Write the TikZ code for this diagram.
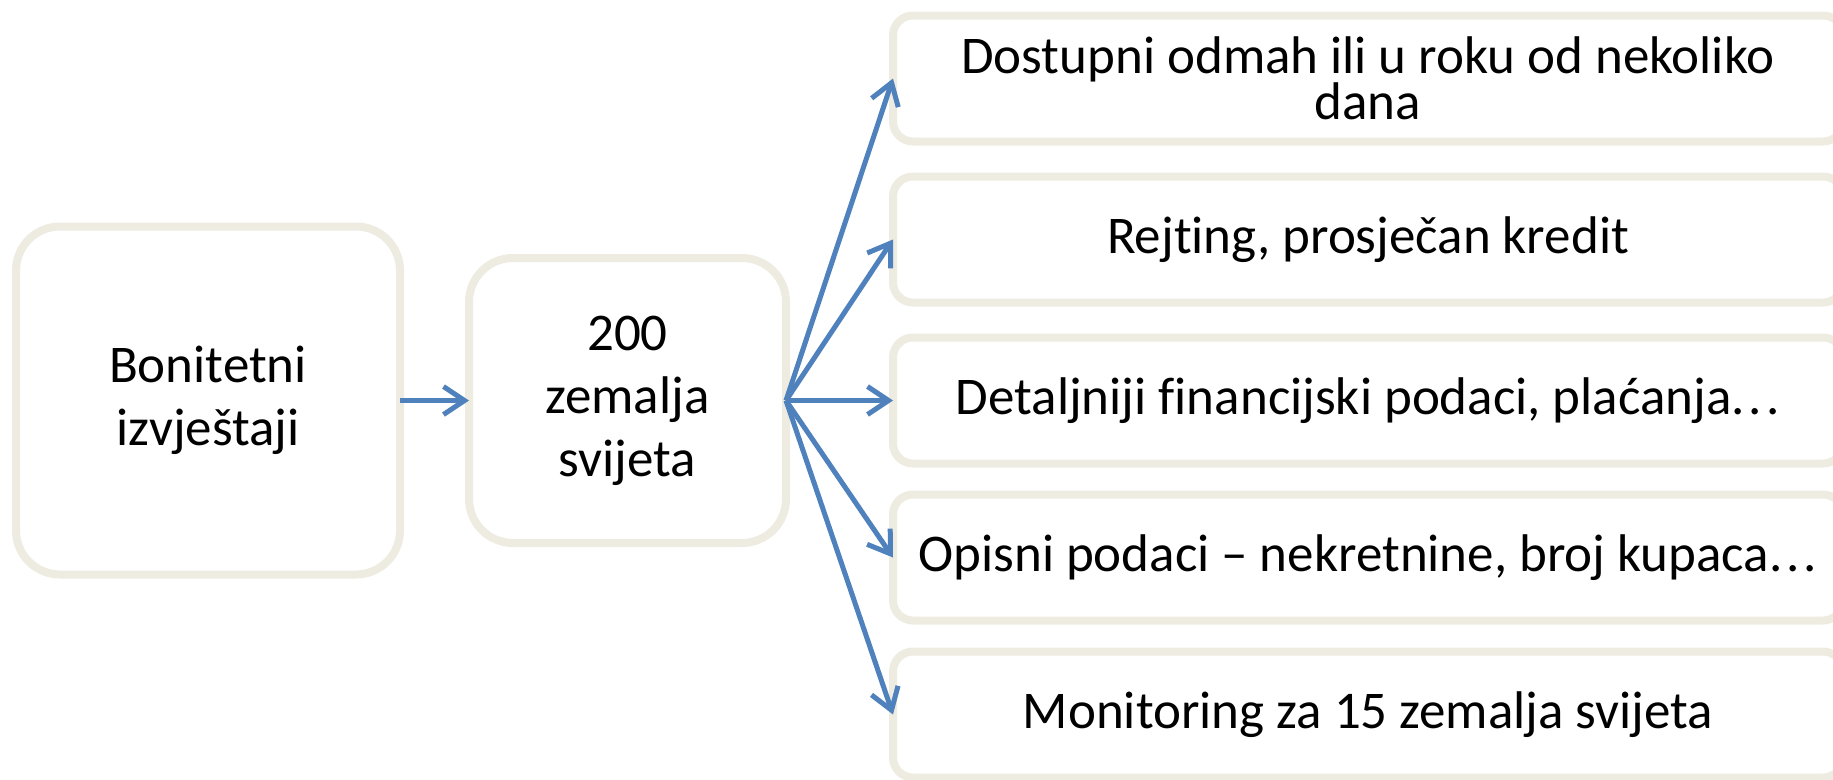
\documentclass[tikz,border=0pt]{standalone}
\usepackage{fontspec}
\setmainfont{Carlito}[Ligatures={NoCommon}]
\usepackage{tikz}
\usetikzlibrary{positioning,arrows.meta}
\usepackage{xcolor}
\definecolor{myblue}{HTML}{4F81BD}
\definecolor{mybeige}{HTML}{EEECE1}
\tikzstyle{box}=[draw=mybeige,fill=white,line width=8pt,rounded corners=44pt,align=center,inner sep=0pt,outer sep=0pt,font=\fontsize{53}{63}\selectfont]
\tikzstyle{item}=[box,rounded corners=20pt,minimum width=950pt,minimum height=126pt]
\tikzstyle{link}=[draw=myblue,line width=5pt,-{Straight Barb[length=21pt,width=28pt]}]

\begin{document}
\begin{tikzpicture}[x=1pt,y=-1pt]
\useasboundingbox[fill=white] (0,0) rectangle (1833,779);

\node[box,minimum width=384pt,minimum height=348pt] (bon) at (208,400.5) {Bonitetni\\izvještaji};
\node[box,minimum width=317pt,minimum height=285pt] (zem) at (627.5,400.5) {200\\zemalja\\svijeta};

% right column, centred on the middle box
\node[item] (det) at (1368,400.5) {Detaljniji financijski podaci, plaćanja.\kern4pt.\kern4pt.};
\node[item,above=35pt of det] (rej) {Rejting, prosječan kredit};
\node[item,above=35pt of rej,font=\fontsize{53}{40}\selectfont] (dost) {Dostupni odmah ili u roku od nekoliko\\dana};
\node[item,below=31pt of det] (opis) {Opisni podaci -- nekretnine, broj kupaca.\kern4pt.\kern4pt.};
\node[item,below=31pt of opis] (mon) {Monitoring za 15 zemalja svijeta};

\draw[link] (bon) -- (zem);
\foreach \t in {dost,rej,det,opis,mon}
    \draw[link] (zem.east) -- (\t.west);

\end{tikzpicture}
\end{document}
